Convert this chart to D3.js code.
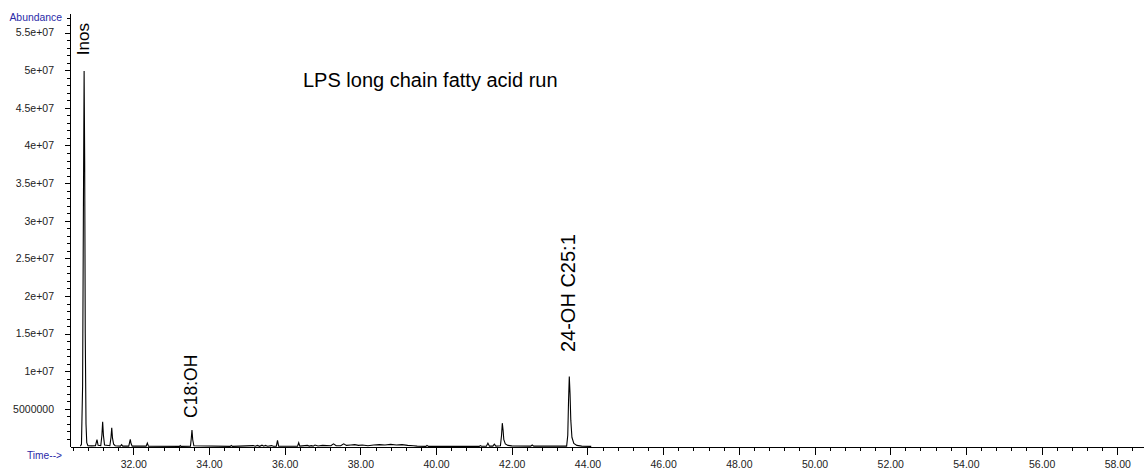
<!DOCTYPE html>
<html>
<head>
<meta charset="utf-8">
<script src="https://cdn.jsdelivr.net/npm/d3@7"></script>
<style>
	body { margin: 0; background: #fff; }
	svg { display: block; font-family: "Liberation Sans", Arial, sans-serif; }
	.axis path, .axis line { stroke: #000; shape-rendering: crispEdges; }
	.axis text { fill: #222; font-size: 10.5px; font-family: "Liberation Sans", Arial, sans-serif; }
</style>
</head>
<body>
<script>
// chromatogram trace (time in min, abundance in counts)
var times = [
	30.60, 30.63, 30.66, 30.68, 30.70, 30.715, 30.73, 30.75, 30.77, 30.80, 30.90,
	31.00, 31.04, 31.07,
	31.14, 31.17, 31.19, 31.21, 31.24,
	31.38, 31.41, 31.43, 31.45, 31.48, 31.52,
	31.66, 31.69, 31.72,
	31.88, 31.90, 31.92, 31.94, 31.97,
	32.34, 32.37, 32.40,
	33.22, 33.24, 33.26,
	33.51, 33.53, 33.55, 33.57, 33.60,
	34.56, 34.59, 34.62,
	35.17, 35.22, 35.28, 35.34, 35.40, 35.45, 35.49, 35.55, 35.65, 35.70,
	35.78, 35.81, 35.84,
	36.20, 36.34, 36.37, 36.40,
	36.60, 36.65, 36.70, 36.75, 36.80, 36.88, 37.00,
	37.22, 37.29, 37.36, 37.48, 37.56, 37.63,
	37.75, 37.85, 37.95, 38.05, 38.20, 38.35, 38.50, 38.65, 38.80, 38.95, 39.10, 39.25, 39.40, 39.50,
	39.73, 39.76, 39.80,
	41.14, 41.17, 41.20, 41.33, 41.37, 41.41, 41.50, 41.54, 41.58,
	41.70, 41.73, 41.75, 41.77, 41.79, 41.83, 41.90, 42.00,
	42.50, 42.54, 42.58,
	43.45, 43.48, 43.50, 43.52, 43.54, 43.56, 43.59, 43.64, 43.72, 43.85, 44.10
];
var abundance = [
	0.05e6, 0.3e6, 8e6, 30e6, 49.9e6, 38e6, 15e6, 3e6, 0.5e6, 0.1e6, 0.08e6,
	0.1e6, 0.9e6, 0.15e6,
	0.1e6, 1.5e6, 3.3e6, 1.5e6, 0.2e6,
	0.1e6, 1.2e6, 2.5e6, 1.1e6, 0.3e6, 0.1e6,
	0.05e6, 0.25e6, 0.05e6,
	0.05e6, 0.5e6, 0.95e6, 0.4e6, 0.05e6,
	0.05e6, 0.45e6, 0.05e6,
	0.02e6, 0.12e6, 0.02e6,
	0.05e6, 1.0e6, 2.2e6, 0.9e6, 0.1e6,
	0.02e6, 0.15e6, 0.02e6,
	0.12e6, 0.03e6, 0.15e6, 0.03e6, 0.18e6, 0.04e6, 0.15e6, 0.03e6, 0.12e6, 0.03e6,
	0.05e6, 0.8e6, 0.05e6,
	0.03e6, 0.05e6, 0.5e6, 0.05e6,
	0.15e6, 0.05e6, 0.12e6, 0.05e6, 0.2e6, 0.06e6, 0.15e6,
	0.1e6, 0.35e6, 0.1e6, 0.1e6, 0.35e6, 0.15e6,
	0.2e6, 0.25e6, 0.15e6, 0.2e6, 0.1e6, 0.2e6, 0.25e6, 0.2e6, 0.28e6, 0.2e6, 0.25e6, 0.15e6, 0.1e6, 0.05e6,
	0.02e6, 0.15e6, 0.02e6,
	0.02e6, 0.12e6, 0.03e6, 0.05e6, 0.45e6, 0.05e6, 0.05e6, 0.3e6, 0.05e6,
	0.1e6, 1.5e6, 3.1e6, 2.2e6, 0.9e6, 0.35e6, 0.15e6, 0.08e6,
	0.05e6, 0.2e6, 0.05e6,
	0.05e6, 1.5e6, 6e6, 9.3e6, 7e6, 3.5e6, 1.2e6, 0.4e6, 0.15e6, 0.05e6, 0.02e6
];

// axis ticks
var xMajorTicks = [32, 34, 36, 38, 40, 42, 44, 46, 48, 50, 52, 54, 56, 58];
var yTickValues = [5e6, 1e7, 1.5e7, 2e7, 2.5e7, 3e7, 3.5e7, 4e7, 4.5e7, 5e7, 5.5e7];
var yTickLabels = ["5000000", "1e+07", "1.5e+07", "2e+07", "2.5e+07", "3e+07",
	"3.5e+07", "4e+07", "4.5e+07", "5e+07", "5.5e+07"];

// peak labels: text, retention time, abundance where the label starts
var peakNames = ["Inos", "C18:OH", "24-OH C25:1"];
var peakTimes = [30.70, 33.55, 43.52];
var peakLabelAt = [52.0e6, 3.8e6, 12.55e6];
var peakFontSizes = [17, 17.5, 20];

var chartTitle = "LPS long chain fatty acid run";

function drawChart() {
	var width = 1144, height = 470;
	var left = 70, bottom = 446.5, top = 13;

	var svg = d3.select("body").append("svg")
		.attr("width", width)
		.attr("height", height);

	// scales
	var x = d3.scaleLinear().domain([30.327, 58.706]).range([left, width]);
	var y = d3.scaleLinear().domain([0, 5.76e7]).range([bottom, top]);

	// minor x ticks every 0.4 min
	var xMinor = d3.range(30.4, 58.7, 0.4).map(function(d) { return +d.toFixed(2); })
		.filter(function(d) { return xMajorTicks.indexOf(d) < 0; });

	svg.append("g")
		.attr("class", "axis")
		.attr("transform", "translate(0," + bottom + ")")
		.call(d3.axisBottom(x).tickValues(xMinor).tickSize(4).tickSizeOuter(0).tickFormat(""));

	svg.append("g")
		.attr("class", "axis")
		.attr("transform", "translate(0," + bottom + ")")
		.call(d3.axisBottom(x).tickValues(xMajorTicks).tickSize(8).tickSizeOuter(0).tickPadding(6)
			.tickFormat(function(d) { return d.toFixed(2); }));

	// y axis, minor ticks each 1e6
	var yMinor = d3.range(1e6, 5.76e7, 1e6).filter(function(d) { return d % 5e6 !== 0; });

	svg.append("g")
		.attr("class", "axis")
		.attr("transform", "translate(" + left + ",0)")
		.call(d3.axisLeft(y).tickValues(yMinor).tickSize(3).tickSizeOuter(0).tickFormat(""));

	svg.append("g")
		.attr("class", "axis")
		.attr("transform", "translate(" + left + ",0)")
		.call(d3.axisLeft(y).tickValues(yTickValues).tickSize(5).tickSizeOuter(0).tickPadding(11)
			.tickFormat(function(d, i) { return yTickLabels[i]; }));

	// axis captions
	svg.append("text")
		.attr("x", 62).attr("y", 20.5)
		.attr("text-anchor", "end")
		.style("font-size", "10.4px")
		.style("fill", "#2a2aa8")
		.text("Abundance");

	svg.append("text")
		.attr("x", 62).attr("y", 459)
		.attr("text-anchor", "end")
		.style("font-size", "10.2px")
		.style("fill", "#2a2aa8")
		.text("Time-->");

	// the trace
	var pts = times.map(function(t, i) { return [t, abundance[i]]; });
	var line = d3.line()
		.x(function(d) { return x(d[0]); })
		.y(function(d) { return y(d[1]); });

	svg.append("path")
		.datum(pts)
		.attr("d", line)
		.attr("fill", "none")
		.attr("stroke", "#000")
		.attr("stroke-width", 1.1);

	// title
	svg.append("text")
		.attr("x", 303).attr("y", 86.5)
		.style("font-size", "20px")
		.style("fill", "#000")
		.text(chartTitle);

	// rotated peak labels
	peakNames.forEach(function(name, i) {
		svg.append("text")
			.attr("transform", "translate(" + (x(peakTimes[i]) + 5.3) + "," + y(peakLabelAt[i]) + ") rotate(-90)")
			.style("font-size", peakFontSizes[i] + "px")
			.style("fill", "#000")
			.text(name);
	});
}

drawChart();
</script>
</body>
</html>
